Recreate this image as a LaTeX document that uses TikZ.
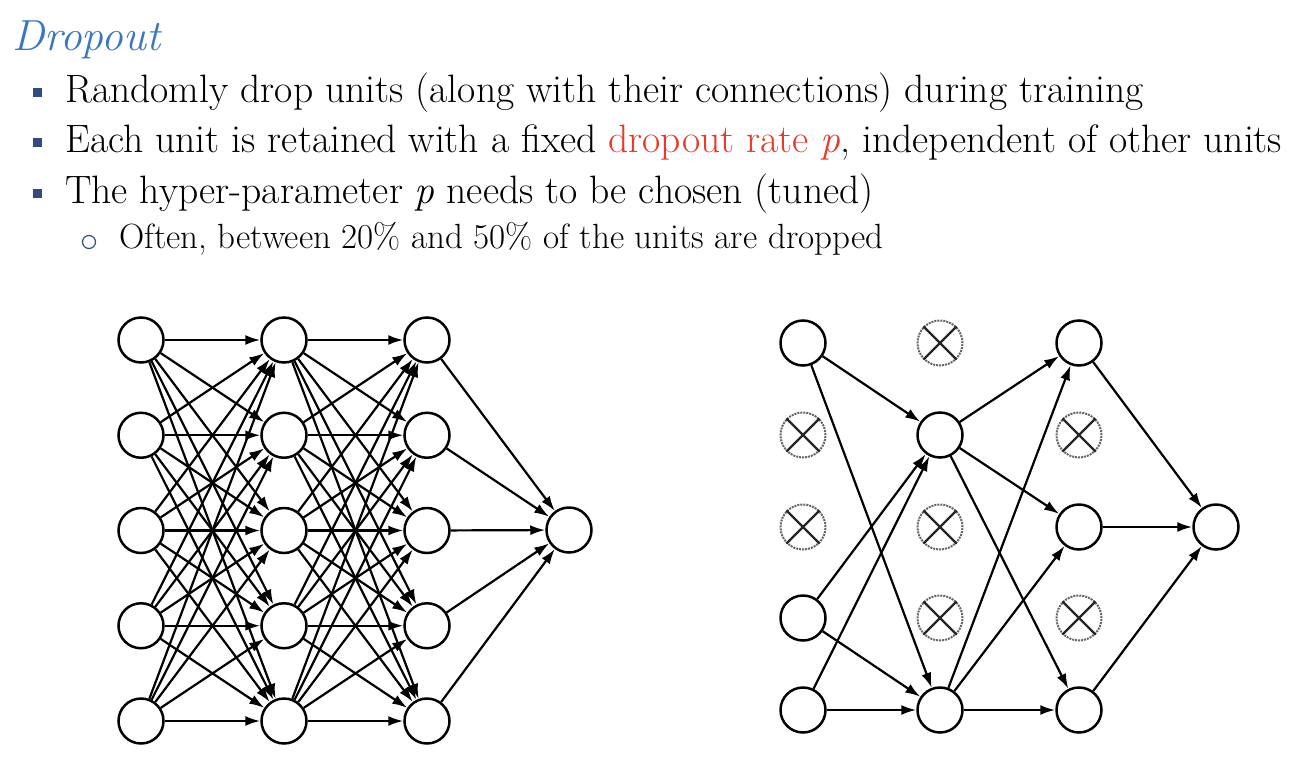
\documentclass[tikz,border=0pt]{standalone}
\usepackage{fontspec}
\usetikzlibrary{arrows.meta}
\definecolor{titleblue}{RGB}{58,118,196}
\definecolor{bulletblue}{RGB}{47,77,128}
\definecolor{ratered}{RGB}{232,57,43}
\begin{document}
\begin{tikzpicture}[x=1pt,y=-1pt,
  unit/.style={circle,draw,line width=2.5pt,minimum size=45pt,inner sep=0pt},
  gone/.style={circle,draw=black!60,densely dotted,line width=2pt,minimum size=45pt,inner sep=0pt},
  xline/.style={line width=2.2pt,black!85},
  link/.style={line width=2.2pt,-{Latex[length=15pt,width=10pt]}},
  bodytext/.style={anchor=base west,inner sep=0pt,font=\fontsize{39.6}{46}\selectfont},
  subtext/.style={anchor=base west,inner sep=0pt,font=\fontsize{35}{40}\selectfont},
  sqbullet/.style={fill=bulletblue,minimum size=9pt,inner sep=0pt},
  ringbullet/.style={circle,draw=bulletblue,line width=1.2pt,minimum size=13pt,inner sep=0pt}]
\useasboundingbox (0,0) rectangle (1294,766);

% heading and bullet list
\node[anchor=base west,inner sep=0pt,text=titleblue,font=\fontsize{43.5}{50}\selectfont\itshape] (title) at (12,50) {Dropout};
\node[sqbullet] (b1) at (37,92) {};
\node[sqbullet] (b2) at (37,142) {};
\node[sqbullet] (b3) at (37,193) {};
\node[ringbullet] (b4) at (89,242) {};
\node[bodytext] (l1) at (65,102) {Randomly drop units (along with their connections) during training};
\node[bodytext] (l2) at (65,152) {Each unit is retained with a fixed \textcolor{ratered}{dropout rate \textit{p}}, independent of other units};
\node[bodytext] (l3) at (65,203) {The hyper-parameter \textit{p} needs to be chosen (tuned)};
\node[subtext] (l4) at (119,248) {Often, between 20\% and 50\% of the units are dropped};

% full network
\foreach \i in {1,...,5} {
  \node[unit] (a\i) at (141,{340+95.25*(\i-1)}) {};
  \node[unit] (b\i) at (284,{340+95.25*(\i-1)}) {};
  \node[unit] (c\i) at (427,{340+95.25*(\i-1)}) {};
}
\node[unit] (ao) at (569,530) {};
\foreach \i in {1,...,5} {
  \foreach \j in {1,...,5} {
    \draw[link] (a\i) -- (b\j);
    \draw[link] (b\i) -- (c\j);
  }
  \draw[link] (c\i) -- (ao);
}

% thinned network after dropout
\node[unit] (r11) at (803,343) {};
\node[gone] (r12) at (803,435) {};
\node[gone] (r13) at (803,527) {};
\node[unit] (r14) at (803,618) {};
\node[unit] (r15) at (803,710) {};
\node[gone] (r21) at (940,343) {};
\node[unit] (r22) at (940,435) {};
\node[gone] (r23) at (940,527) {};
\node[gone] (r24) at (940,618) {};
\node[unit] (r25) at (940,710) {};
\node[unit] (r31) at (1079,343) {};
\node[gone] (r32) at (1079,435) {};
\node[unit] (r33) at (1079,527) {};
\node[gone] (r34) at (1079,618) {};
\node[unit] (r35) at (1079,710) {};
\node[unit] (ro) at (1216,527) {};
\foreach \n in {r12,r13,r21,r23,r24,r32,r34} {
  \draw[xline] (\n.north east) -- (\n.south west) (\n.north west) -- (\n.south east);
}
\foreach \s/\t in {r11/r22,r11/r25,r14/r22,r14/r25,r15/r22,r15/r25,
                   r22/r31,r22/r33,r22/r35,r25/r31,r25/r33,r25/r35,
                   r31/ro,r33/ro,r35/ro} {
  \draw[link] (\s) -- (\t);
}
\end{tikzpicture}
\end{document}
